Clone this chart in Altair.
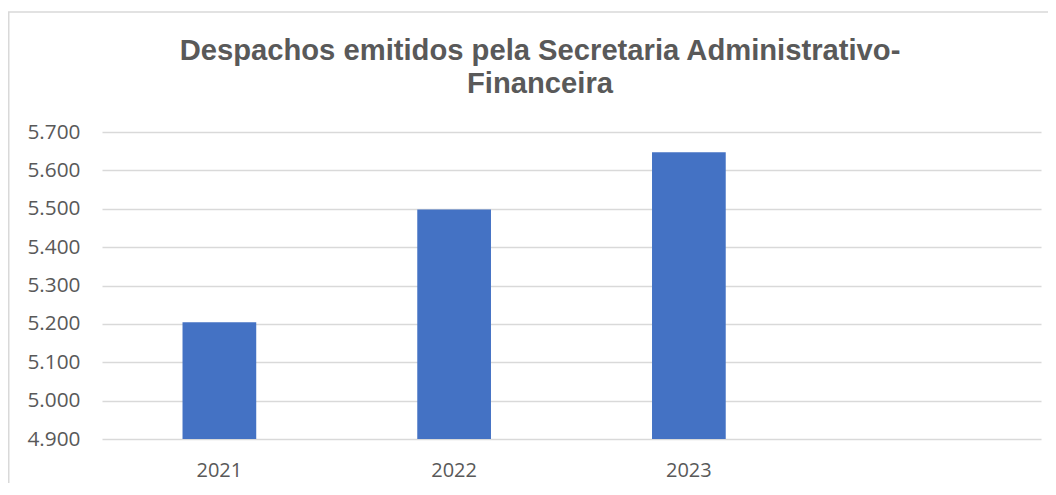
import altair as alt
import pandas as pd

years = ["2021", "2022", "2023"]
despachos = [5204, 5498, 5647]
x_domain = ["2021", "2022", "2023", " "]
y_ticks = [4900, 5000, 5100, 5200, 5300, 5400, 5500, 5600, 5700]
BASELINE = 4900
TITLE = ["Despachos emitidos pela Secretaria Administrativo-", "Financeira"]

df = pd.DataFrame({"ano": years, "valor": despachos})
deco_df = pd.DataFrame({"a": [0]})

GRAY = "#595959"

bars = alt.Chart(df).mark_bar(color="#4472C4").encode(
    x=alt.X("ano:N", title=None,
            scale=alt.Scale(domain=x_domain, paddingInner=0.686, paddingOuter=0.343),
            axis=alt.Axis(labelAngle=0, ticks=False, domain=False, grid=False,
                          labelFont="Open Sans", labelFontSize=20, labelColor=GRAY,
                          labelPadding=21)),
    y=alt.Y("valor:Q", title=None,
            scale=alt.Scale(domain=[4900, 5700], nice=False, zero=False),
            axis=alt.Axis(values=y_ticks, ticks=False, tickSize=0, domain=False,
                          grid=True, gridColor="#d9d9d9", gridWidth=1.3,
                          labelFont="Open Sans", labelFontSize=20.8, labelColor=GRAY,
                          labelPadding=22,
                          labelExpr="replace(format(datum.value, ',.0f'), ',', '.')")),
    y2=alt.Y2(datum=BASELINE),
)

frame = alt.Chart(deco_df).mark_rect(fill=None, stroke="#d9d9d9", strokeWidth=1.5).encode(
    x=alt.value(-93.25), x2=alt.value(980), y=alt.value(-120), y2=alt.value(400)
)

title = alt.Chart(deco_df).mark_text(
    font="Liberation Sans", fontSize=29.2, fontWeight="bold", color=GRAY,
    align="center", baseline="alphabetic", lineHeight=33,
).encode(x=alt.value(438), y=alt.value(-72), text=alt.value(TITLE))

chart = alt.layer(frame, bars, title).properties(
    width=939, height=307,
    autosize=alt.AutoSizeParams(type="none"),
    padding={"left": 94, "top": 124, "right": 7, "bottom": 44},
    background="white",
).configure_view(stroke=None)

chart.save("out.html", embed_options={"renderer": "svg", "actions": False})
